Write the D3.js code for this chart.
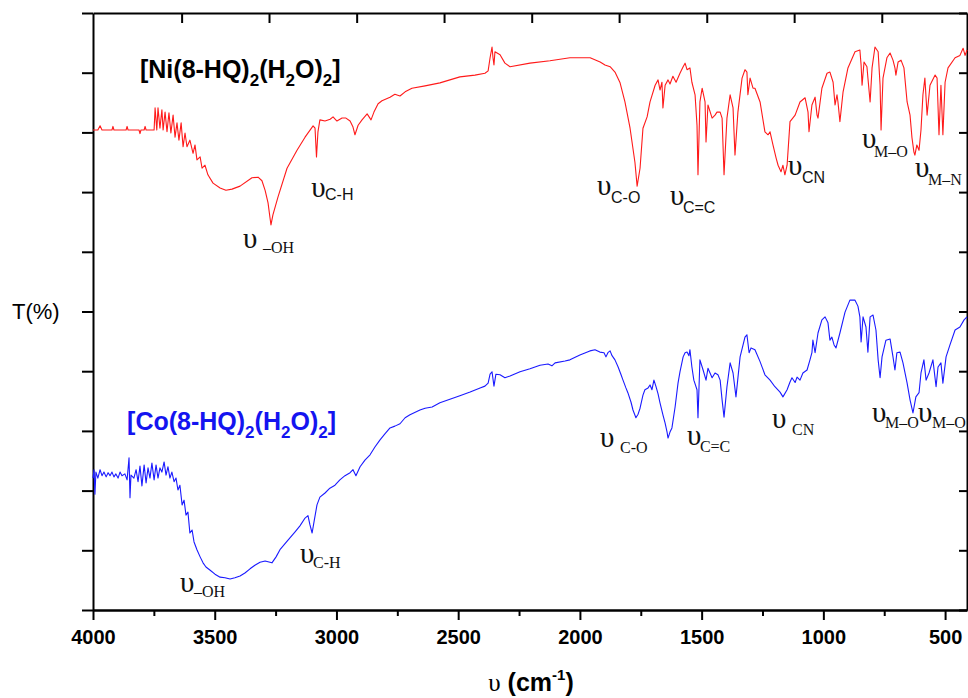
<!DOCTYPE html>
<html><head><meta charset="utf-8">
<script src="https://cdn.jsdelivr.net/npm/d3@7"></script>
<style>
html,body{margin:0;padding:0;background:#fff;}
svg{display:block;}
</style></head>
<body>
<svg id="chart" width="968" height="698"></svg>
<script>
// ---------- DATA ----------
const xMajorTicks = [4000, 3500, 3000, 2500, 2000, 1500, 1000, 500];
const xMinorTicks = [3750, 3250, 2750, 2250, 1750, 1250, 750];
const topTicks = [3636, 3277, 2917, 2558, 2198, 1839, 1479, 1120, 760];
const yTicks = [0, 10, 20, 30, 40, 50, 60, 70, 80, 90, 100];

// [Ni(8-HQ)2(H2O)2] spectrum: [wavenumber, T]
const niSpectrum = [
[4000,80.4],[3980,80.4],[3971,81.1],[3963,80.4],[3922,80.4],[3918,81.0],[3914,80.4],[3864,80.4],[3860,81.0],[3856,80.4],
[3811,80.4],[3807,79.8],[3803,80.4],[3790,80.4],[3786,81.0],[3782,80.4],[3749,80.4],
[3745,84.1],[3738,80.4],[3733,84.1],[3725,80.7],[3717,83.8],[3712,80.4],[3704,83.4],[3696,80.1],[3688,83.3],[3680,79.9],
[3671,82.9],[3663,79.2],[3655,81.6],[3647,78.7],[3638,81.6],[3630,77.6],[3622,79.9],[3614,77.6],[3602,78.7],[3589,76.5],
[3581,77.9],[3573,75.4],[3560,75.9],[3552,74.0],[3540,74.5],[3528,72.9],[3507,71.5],[3478,70.7],[3454,70.3],[3429,70.5],
[3396,71.0],[3347,72.4],[3322,72.5],[3306,71.9],[3293,70.3],[3281,68.2],[3273,65.7],[3269,64.5],[3261,66.2],[3240,69.2],
[3203,74.0],[3162,77.0],[3129,79.2],[3096,81.1],[3088,80.7],[3082,75.9],[3076,80.1],[3068,82.1],[3047,81.9],[3026,82.2],
[3014,82.6],[2998,81.9],[2977,82.4],[2961,82.4],[2944,81.9],[2932,80.9],[2924,79.6],[2911,81.2],[2895,82.1],[2874,83.1],
[2858,82.1],[2846,83.4],[2829,84.8],[2813,85.3],[2780,85.9],[2760,86.4],[2739,86.1],[2718,86.8],[2690,87.4],[2636,87.8],
[2575,88.3],[2493,89.3],[2431,89.6],[2390,89.9],[2377,90.3],[2369,92.5],[2361,94.3],[2357,92.5],[2353,91.3],[2349,93.5],
[2328,93.0],[2308,91.6],[2287,91.0],[2205,91.6],[2123,92.0],[2041,92.5],[1958,92.5],[1917,91.8],[1897,91.3],[1876,91.0],
[1856,90.1],[1835,88.3],[1815,85.1],[1794,80.7],[1774,75.0],[1765,71.0],[1753,74.0],[1741,80.7],[1724,82.6],[1712,85.1],
[1691,87.9],[1679,88.8],[1671,87.1],[1663,88.4],[1659,84.1],[1650,87.9],[1638,88.8],[1630,88.1],[1618,89.4],[1605,88.4],
[1589,89.9],[1576,91.0],[1568,91.6],[1560,90.5],[1548,90.8],[1540,88.4],[1527,86.3],[1519,81.2],[1515,72.9],[1507,85.1],
[1498,87.4],[1486,85.1],[1482,78.4],[1474,84.6],[1457,82.4],[1445,82.9],[1437,83.4],[1424,83.4],[1416,82.4],[1408,72.9],
[1396,82.4],[1383,86.3],[1371,84.1],[1363,76.2],[1351,83.4],[1334,89.1],[1322,90.5],[1314,90.1],[1310,86.3],[1301,89.1],
[1289,87.4],[1281,87.4],[1260,85.1],[1240,80.1],[1227,79.6],[1219,80.1],[1207,77.9],[1194,75.7],[1186,74.5],[1174,73.4],
[1166,74.5],[1158,72.9],[1149,74.5],[1137,81.8],[1116,82.9],[1096,85.1],[1075,85.8],[1063,83.4],[1059,80.1],[1047,84.6],
[1034,85.9],[1026,82.9],[1022,82.4],[1006,87.4],[985,89.9],[973,90.1],[960,88.4],[952,84.6],[944,86.3],[940,85.1],
[932,81.8],[919,86.8],[899,90.8],[870,93.5],[850,93.8],[845,91.3],[841,87.9],[833,91.8],[821,91.0],[817,89.1],
[808,85.1],[800,90.8],[788,94.3],[775,93.5],[767,87.9],[763,80.4],[755,89.1],[739,92.5],[726,93.3],[714,92.1],
[706,90.8],[702,89.6],[693,91.8],[681,92.1],[669,90.8],[656,85.1],[644,82.9],[636,79.1],[628,76.7],[624,76.2],
[616,77.9],[607,77.0],[599,80.4],[591,86.3],[583,89.1],[574,82.9],[562,87.9],[541,89.6],[533,89.1],[525,79.6],
[517,87.9],[509,79.6],[500,88.4],[488,90.8],[459,92.5],[439,92.9],[426,94.1],[418,92.9],[410,93.8]
];

// [Co(8-HQ)2(H2O)2] spectrum: [wavenumber, T]
const coSpectrum = [
[4000,22.1],[3996,23.5],[3992,19.4],[3988,23.1],[3980,22.1],[3971,23.5],[3963,22.5],[3955,23.1],[3946,22.3],[3938,23.0],
[3930,22.5],[3922,23.1],[3914,22.3],[3906,22.8],[3897,22.1],[3889,23.1],[3881,22.5],[3869,22.8],[3860,21.8],[3852,25.5],
[3848,18.8],[3844,22.6],[3832,22.1],[3823,23.5],[3815,21.5],[3807,24.1],[3799,20.8],[3790,24.3],[3782,21.3],[3774,23.8],
[3766,22.1],[3758,24.6],[3749,21.8],[3741,24.3],[3733,22.1],[3725,23.8],[3717,23.1],[3708,24.8],[3700,22.6],[3692,24.0],
[3684,22.1],[3676,23.1],[3667,21.5],[3659,22.1],[3651,20.1],[3643,20.9],[3634,17.6],[3626,18.4],[3618,15.9],[3610,16.4],
[3602,12.9],[3593,13.4],[3585,11.4],[3573,10.1],[3560,8.9],[3548,7.9],[3536,7.2],[3520,6.7],[3499,6.0],[3478,5.5],
[3458,5.4],[3437,5.2],[3417,5.4],[3396,5.7],[3376,6.2],[3355,6.9],[3335,7.5],[3314,8.0],[3293,8.2],[3273,8.0],
[3265,7.9],[3248,8.9],[3232,10.1],[3199,11.7],[3170,13.1],[3150,14.1],[3129,15.4],[3117,15.8],[3109,14.3],[3100,12.9],
[3092,14.8],[3080,17.6],[3068,18.9],[3047,19.6],[3027,20.4],[3006,20.9],[2986,21.8],[2965,22.5],[2944,23.0],[2932,23.5],
[2920,22.5],[2903,24.0],[2883,25.1],[2862,26.0],[2842,27.3],[2821,28.5],[2801,29.5],[2780,30.5],[2760,30.8],[2739,31.2],
[2718,32.2],[2698,32.7],[2657,33.5],[2636,33.8],[2607,34.0],[2575,34.7],[2534,35.3],[2493,35.9],[2451,36.5],[2410,37.2],
[2390,37.5],[2377,38.0],[2369,39.5],[2361,39.9],[2353,37.5],[2345,39.5],[2328,39.4],[2308,38.9],[2287,39.2],[2246,39.9],
[2205,40.4],[2164,41.0],[2131,41.2],[2115,40.9],[2102,41.4],[2061,41.7],[2041,41.9],[2000,42.7],[1959,43.4],[1938,43.6],
[1918,43.2],[1901,43.1],[1893,42.4],[1885,43.1],[1876,43.4],[1868,42.6],[1856,41.9],[1843,40.7],[1831,39.4],[1823,38.5],
[1811,37.2],[1803,36.4],[1790,34.8],[1782,33.5],[1770,32.2],[1761,32.8],[1753,33.8],[1741,36.0],[1733,36.9],[1720,37.2],
[1712,37.7],[1704,36.9],[1696,38.5],[1688,37.5],[1679,36.2],[1671,34.7],[1659,32.7],[1650,31.3],[1642,29.8],[1638,28.8],
[1630,29.8],[1622,30.5],[1609,34.0],[1597,38.0],[1589,39.9],[1576,42.4],[1568,43.1],[1560,43.2],[1552,42.6],[1548,43.6],
[1540,40.7],[1532,38.5],[1519,36.9],[1515,32.2],[1507,41.9],[1494,40.2],[1482,38.5],[1474,40.5],[1457,38.9],[1445,39.7],
[1433,39.4],[1424,38.5],[1416,35.2],[1408,32.3],[1396,37.4],[1383,41.4],[1371,39.7],[1359,35.7],[1342,42.4],[1322,45.7],
[1314,46.1],[1305,43.1],[1297,43.9],[1281,43.6],[1260,41.6],[1240,39.4],[1219,38.5],[1199,37.4],[1178,36.5],[1166,35.7],
[1149,36.9],[1137,38.2],[1129,38.9],[1116,38.1],[1108,39.0],[1096,38.5],[1084,39.7],[1067,40.2],[1055,41.9],[1047,43.1],
[1043,45.2],[1034,43.1],[1022,46.4],[1006,48.6],[993,49.1],[981,48.1],[973,45.2],[965,45.7],[956,44.4],[948,43.9],
[932,46.4],[911,49.9],[891,51.9],[870,51.9],[858,50.9],[850,49.1],[845,44.9],[837,49.1],[825,47.4],[817,43.2],
[808,49.1],[796,49.4],[784,46.9],[775,41.9],[767,38.9],[759,42.4],[743,45.2],[726,45.4],[714,42.4],[706,40.2],
[698,43.1],[685,43.2],[673,41.4],[656,38.0],[644,35.2],[632,33.0],[620,35.7],[607,36.4],[599,39.7],[587,41.9],
[578,38.5],[566,39.7],[550,41.9],[537,37.4],[529,40.7],[517,41.4],[509,38.0],[496,42.4],[480,44.4],[459,46.9],
[439,47.4],[422,48.6],[410,49.1]
];

// Band annotations: symbol anchor (wn, t) and subscript anchor (subWn, subT)
const niBands = [
  {sub:"\u2013OH", wn:3384, t:60.6, subWn:3302, subT:59.8, serif:true},
  {sub:"C-H",      wn:3104, t:69.2, subWn:3047, subT:68.7, serif:false},
  {sub:"C-O",      wn:1930, t:69.5, subWn:1872, subT:68.2, serif:false},
  {sub:"C=C",      wn:1630, t:67.8, subWn:1577, subT:66.5, serif:false},
  {sub:"CN",       wn:1145, t:72.9, subWn:1088, subT:71.5, serif:false},
  {sub:"M\u2013O", wn:841,  t:77.4, subWn:792,  subT:75.9, serif:true},
  {sub:"M\u2013N", wn:624,  t:72.5, subWn:570,  subT:71.2, serif:true}
];
const coBands = [
  {sub:"\u2013OH", wn:3643, t:3.0,  subWn:3585, subT:2.2,  serif:true},
  {sub:"C-H",      wn:3150, t:7.9,  subWn:3096, subT:7.0,  serif:true},
  {sub:"C-O",      wn:1917, t:27.3, subWn:1835, subT:26.3, serif:true},
  {sub:"C=C",      wn:1560, t:27.6, subWn:1507, subT:26.5, serif:true},
  {sub:"CN",       wn:1211, t:30.5, subWn:1129, subT:29.3, serif:true},
  {sub:"M\u2013O", wn:800,  t:31.5, subWn:747,  subT:30.5, serif:true},
  {sub:"M\u2013O", wn:611,  t:31.5, subWn:554,  subT:30.5, serif:true}
];
const compoundLabels = [
  {metal:"Ni", wn:3807, t:89.1, color:"#000000"},
  {metal:"Co", wn:3860, t:30.2, color:"#1414f0"}
];

// ---------- CHART ----------
const svg = d3.select("#chart");
const x = d3.scaleLinear().domain([4000, 410]).range([93, 967]);
const y = d3.scaleLinear().domain([0, 100]).range([610, 13]);
const SANS = "'Liberation Sans', Arial, Helvetica, sans-serif";
const SERIF = "'Liberation Serif', 'Times New Roman', serif";

function styleAxis(g){
  g.selectAll("path.domain").attr("stroke","#000").attr("stroke-width",2);
  g.selectAll(".tick line").attr("stroke","#000").attr("stroke-width",2);
}

// bottom axis: major + minor
const gB = svg.append("g").attr("transform",`translate(0,${y(0)})`)
  .call(d3.axisBottom(x).tickValues(xMajorTicks).tickSize(10).tickSizeOuter(0).tickFormat(d3.format("d")));
styleAxis(gB);
gB.selectAll("text").attr("y",20).attr("dy","0.71em")
  .attr("font-family",SANS).attr("font-weight","bold").attr("font-size",20).attr("fill","#000");
const gBm = svg.append("g").attr("transform",`translate(0,${y(0)})`)
  .call(d3.axisBottom(x).tickValues(xMinorTicks).tickSize(6).tickSizeOuter(0).tickFormat(""));
styleAxis(gBm);

// top axis
const gT = svg.append("g").attr("transform",`translate(0,${y(100)})`)
  .call(d3.axisTop(x).tickValues(topTicks).tickSize(-10).tickSizeOuter(0).tickFormat(""));
styleAxis(gT);

// left axis
const gL = svg.append("g").attr("transform",`translate(${x(4000)},0)`)
  .call(d3.axisLeft(y).tickValues(yTicks).tickSize(11).tickSizeOuter(0).tickFormat(""));
styleAxis(gL);

// right axis
const gR = svg.append("g").attr("transform",`translate(${x(410)},0)`)
  .call(d3.axisRight(y).tickValues(yTicks).tickSize(-8).tickSizeOuter(0).tickFormat(""));
styleAxis(gR);

// spectra
const line = d3.line().x(d=>x(d[0])).y(d=>y(d[1]));
svg.append("path").datum(niSpectrum).attr("d",line)
  .attr("fill","none").attr("stroke","#ff1a1a").attr("stroke-width",1.1).attr("stroke-linejoin","round");
svg.append("path").datum(coSpectrum).attr("d",line)
  .attr("fill","none").attr("stroke","#1a1aff").attr("stroke-width",1.1).attr("stroke-linejoin","round");

// band annotations
function drawBands(list){
  list.forEach(b=>{
    svg.append("text").attr("x",x(b.wn)).attr("y",y(b.t))
      .attr("font-family",SERIF).attr("font-size",29).attr("fill","#111").text("\u03C5");
    svg.append("text").attr("x",x(b.subWn)).attr("y",y(b.subT))
      .attr("font-family",b.serif?SERIF:SANS).attr("font-size",16).attr("fill","#111").text(b.sub);
  });
}
drawBands(niBands);
drawBands(coBands);

// compound labels
compoundLabels.forEach(c=>{
  const t = svg.append("text").attr("x",x(c.wn)).attr("y",y(c.t))
    .attr("font-family",SANS).attr("font-weight","bold").attr("font-size",25).attr("fill",c.color);
  const parts = [["[" + c.metal + "(8-HQ)",0],["2",1],["(H",0],["2",1],["O)",0],["2",1],["]",0]];
  let sub = false;
  parts.forEach(p=>{
    const ts = t.append("tspan").text(p[0]);
    if(p[1]===1){ ts.attr("font-size",17).attr("dy", 8); sub=true; }
    else if(sub){ ts.attr("dy",-8); sub=false; }
  });
});

// y axis title
svg.append("text").attr("x",12).attr("y",319)
  .attr("font-family",SANS).attr("font-size",22).attr("fill","#000").text("T(%)");

// x axis title
const xt = svg.append("text").attr("x",531).attr("y",691)
  .attr("text-anchor","middle").attr("font-family",SANS).attr("font-weight","bold")
  .attr("font-size",25).attr("fill","#000");
xt.append("tspan").attr("font-family",SERIF).attr("font-weight","normal").text("\u03C5");
xt.append("tspan").text(" (cm");
xt.append("tspan").attr("font-size",15).attr("dy",-11).text("-1");
xt.append("tspan").attr("dy",11).text(")");
</script>
</body></html>
